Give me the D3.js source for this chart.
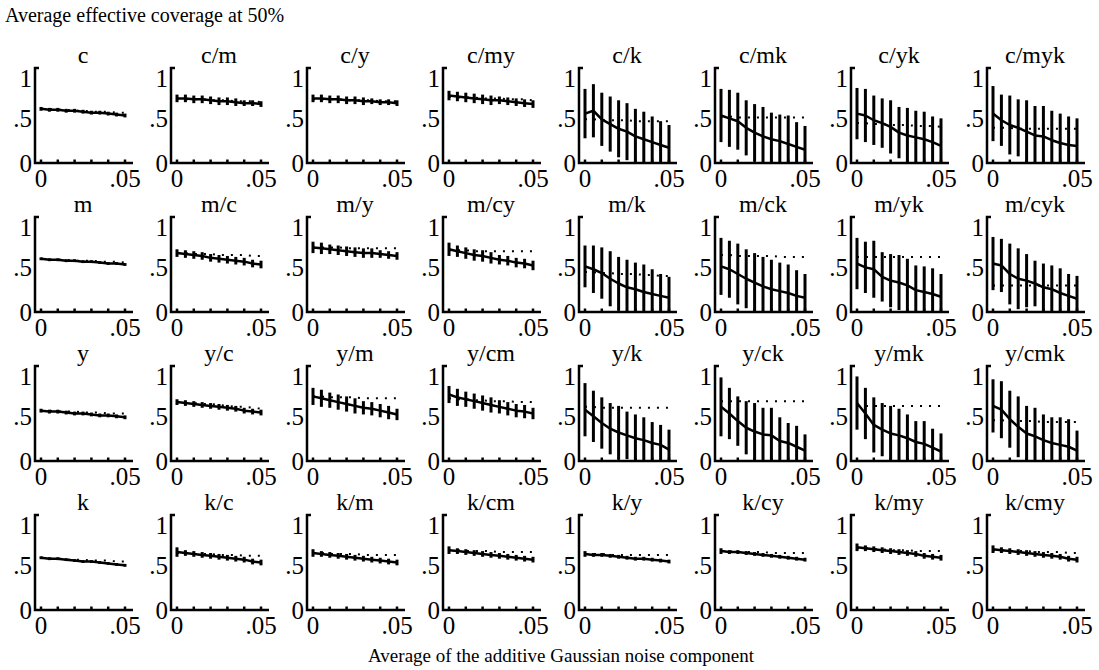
<!DOCTYPE html>
<html>
<head>
<meta charset="utf-8">
<script src="https://cdn.jsdelivr.net/npm/d3@7"></script>
<style>
  html, body { margin: 0; padding: 0; background: #fff; }
</style>
</head>
<body>
<svg id="chart" width="1099" height="670" font-family="'Liberation Serif', 'Times New Roman', Times, serif"></svg>
<script>
// Noise levels along the x axis of every panel
const noiseLevels = [0, 0.005, 0.01, 0.015, 0.02, 0.025, 0.03, 0.035, 0.04, 0.045, 0.05];
const xTickValues = [0, 0.01, 0.02, 0.03, 0.04, 0.05];
const xTickLabels = ["0", ".05"];
const yTickLabels = ["0", ".5", "1"];

// Ink combinations, one per panel, row by row
const panelNames = [
  "c", "c/m", "c/y", "c/my", "c/k", "c/mk", "c/yk", "c/myk",
  "m", "m/c", "m/y", "m/cy", "m/k", "m/ck", "m/yk", "m/cyk",
  "y", "y/c", "y/m", "y/cm", "y/k", "y/ck", "y/mk", "y/cmk",
  "k", "k/c", "k/m", "k/cm", "k/y", "k/cy", "k/my", "k/cmy"
];

// Mean effective coverage per noise level
const meanCoverage = [
  [0.57,0.56,0.56,0.55,0.55,0.54,0.53,0.53,0.52,0.51,0.50],
  [0.68,0.68,0.67,0.67,0.66,0.65,0.65,0.64,0.63,0.63,0.62],
  [0.68,0.68,0.67,0.67,0.66,0.66,0.65,0.65,0.64,0.64,0.63],
  [0.71,0.70,0.69,0.68,0.67,0.66,0.66,0.65,0.64,0.63,0.62],
  [0.52,0.55,0.46,0.41,0.36,0.33,0.28,0.25,0.22,0.19,0.16],
  [0.50,0.47,0.44,0.37,0.32,0.28,0.25,0.23,0.20,0.17,0.14],
  [0.52,0.50,0.45,0.42,0.38,0.32,0.29,0.27,0.25,0.22,0.18],
  [0.52,0.45,0.40,0.37,0.33,0.29,0.28,0.24,0.21,0.19,0.18],

  [0.56,0.55,0.55,0.54,0.54,0.53,0.53,0.52,0.51,0.51,0.50],
  [0.62,0.61,0.60,0.59,0.57,0.56,0.55,0.54,0.53,0.51,0.50],
  [0.68,0.67,0.66,0.65,0.64,0.63,0.62,0.62,0.61,0.60,0.59],
  [0.66,0.64,0.62,0.60,0.59,0.57,0.55,0.54,0.52,0.51,0.49],
  [0.48,0.45,0.41,0.35,0.30,0.26,0.24,0.21,0.19,0.17,0.15],
  [0.48,0.45,0.40,0.35,0.31,0.27,0.24,0.22,0.20,0.17,0.15],
  [0.51,0.47,0.45,0.37,0.33,0.31,0.28,0.23,0.21,0.19,0.16],
  [0.51,0.49,0.40,0.35,0.33,0.30,0.26,0.24,0.20,0.17,0.14],

  [0.53,0.52,0.52,0.51,0.50,0.50,0.49,0.48,0.48,0.47,0.46],
  [0.62,0.61,0.60,0.59,0.58,0.57,0.56,0.55,0.53,0.52,0.51],
  [0.68,0.66,0.64,0.62,0.60,0.58,0.56,0.55,0.53,0.51,0.49],
  [0.70,0.67,0.65,0.63,0.61,0.59,0.57,0.55,0.53,0.52,0.50],
  [0.54,0.47,0.40,0.34,0.30,0.27,0.24,0.22,0.19,0.17,0.12],
  [0.57,0.50,0.42,0.35,0.31,0.28,0.27,0.21,0.19,0.15,0.11],
  [0.61,0.50,0.38,0.33,0.29,0.27,0.24,0.20,0.18,0.14,0.10],
  [0.58,0.54,0.44,0.36,0.29,0.26,0.22,0.19,0.17,0.15,0.11],

  [0.55,0.54,0.54,0.53,0.52,0.51,0.51,0.50,0.49,0.48,0.47],
  [0.61,0.60,0.59,0.58,0.57,0.56,0.55,0.54,0.53,0.51,0.50],
  [0.60,0.59,0.58,0.57,0.56,0.55,0.54,0.53,0.52,0.51,0.50],
  [0.63,0.62,0.61,0.60,0.59,0.58,0.57,0.56,0.55,0.54,0.53],
  [0.59,0.58,0.58,0.57,0.56,0.55,0.54,0.54,0.53,0.52,0.51],
  [0.62,0.61,0.61,0.60,0.59,0.58,0.57,0.56,0.55,0.54,0.53],
  [0.66,0.65,0.64,0.63,0.62,0.61,0.60,0.59,0.57,0.56,0.55],
  [0.64,0.63,0.62,0.61,0.60,0.59,0.58,0.57,0.56,0.54,0.53]
];

// Half-length of the error bar at each noise level
const coverageSpread = [
  [0.02,0.02,0.02,0.02,0.02,0.02,0.02,0.02,0.02,0.02,0.02],
  [0.04,0.04,0.04,0.04,0.04,0.04,0.04,0.04,0.03,0.03,0.03],
  [0.04,0.04,0.04,0.04,0.04,0.04,0.04,0.03,0.03,0.03,0.03],
  [0.05,0.05,0.05,0.05,0.05,0.05,0.04,0.04,0.04,0.04,0.04],
  [0.26,0.28,0.28,0.29,0.30,0.30,0.29,0.29,0.27,0.25,0.24],
  [0.28,0.30,0.30,0.29,0.30,0.31,0.28,0.28,0.30,0.26,0.25],
  [0.27,0.28,0.26,0.26,0.28,0.27,0.29,0.28,0.29,0.27,0.29],
  [0.29,0.27,0.31,0.30,0.33,0.31,0.32,0.31,0.31,0.30,0.29],

  [0.015,0.015,0.015,0.015,0.015,0.015,0.015,0.015,0.015,0.015,0.015],
  [0.04,0.04,0.04,0.04,0.04,0.04,0.04,0.04,0.04,0.04,0.04],
  [0.06,0.06,0.05,0.05,0.05,0.05,0.05,0.05,0.04,0.04,0.04],
  [0.07,0.06,0.06,0.06,0.06,0.06,0.05,0.05,0.05,0.05,0.05],
  [0.22,0.25,0.27,0.29,0.28,0.29,0.28,0.29,0.26,0.23,0.22],
  [0.30,0.30,0.32,0.31,0.31,0.31,0.31,0.30,0.30,0.27,0.25],
  [0.27,0.27,0.30,0.26,0.28,0.29,0.28,0.26,0.27,0.27,0.24],
  [0.28,0.28,0.32,0.32,0.28,0.24,0.25,0.25,0.26,0.23,0.24],

  [0.02,0.02,0.02,0.02,0.02,0.02,0.02,0.02,0.02,0.02,0.02],
  [0.03,0.03,0.03,0.03,0.03,0.03,0.03,0.03,0.03,0.03,0.03],
  [0.09,0.09,0.08,0.08,0.08,0.08,0.07,0.07,0.07,0.07,0.06],
  [0.09,0.09,0.08,0.08,0.08,0.08,0.07,0.07,0.07,0.07,0.06],
  [0.28,0.27,0.27,0.27,0.28,0.25,0.25,0.24,0.22,0.21,0.21],
  [0.31,0.27,0.26,0.28,0.30,0.28,0.29,0.25,0.21,0.22,0.17],
  [0.28,0.27,0.29,0.28,0.29,0.28,0.25,0.22,0.24,0.20,0.19],
  [0.28,0.30,0.30,0.32,0.29,0.30,0.27,0.27,0.29,0.29,0.21],

  [0.015,0.015,0.015,0.015,0.015,0.015,0.015,0.015,0.015,0.015,0.015],
  [0.05,0.03,0.03,0.03,0.03,0.03,0.03,0.03,0.03,0.03,0.03],
  [0.04,0.03,0.03,0.03,0.03,0.03,0.03,0.03,0.03,0.03,0.03],
  [0.04,0.03,0.03,0.03,0.03,0.03,0.03,0.03,0.03,0.03,0.03],
  [0.03,0.02,0.02,0.02,0.02,0.02,0.02,0.02,0.02,0.02,0.02],
  [0.03,0.02,0.02,0.02,0.02,0.02,0.02,0.02,0.02,0.02,0.02],
  [0.04,0.03,0.03,0.03,0.03,0.03,0.03,0.03,0.03,0.03,0.03],
  [0.04,0.03,0.03,0.03,0.03,0.03,0.03,0.03,0.03,0.03,0.03]
];

// Dotted comparison curve per noise level
const referenceCoverage = [
  [0.57,0.57,0.56,0.56,0.55,0.55,0.54,0.54,0.54,0.53,0.53],
  [0.68,0.67,0.67,0.67,0.66,0.66,0.66,0.65,0.65,0.65,0.64],
  [0.67,0.67,0.67,0.67,0.66,0.66,0.66,0.66,0.65,0.65,0.65],
  [0.70,0.69,0.69,0.69,0.68,0.68,0.68,0.67,0.67,0.67,0.66],
  [0.46,0.46,0.45,0.45,0.45,0.45,0.44,0.44,0.44,0.44,0.44],
  [0.49,0.49,0.48,0.48,0.48,0.48,0.48,0.48,0.48,0.48,0.48],
  [0.42,0.42,0.41,0.41,0.40,0.40,0.40,0.39,0.39,0.39,0.38],
  [0.37,0.37,0.37,0.36,0.36,0.36,0.36,0.36,0.36,0.36,0.36],

  [0.56,0.55,0.55,0.55,0.54,0.54,0.54,0.53,0.53,0.53,0.52],
  [0.62,0.62,0.61,0.61,0.61,0.60,0.60,0.60,0.60,0.59,0.59],
  [0.68,0.68,0.68,0.68,0.67,0.67,0.67,0.67,0.67,0.67,0.67],
  [0.65,0.65,0.65,0.64,0.64,0.64,0.64,0.64,0.64,0.64,0.64],
  [0.42,0.42,0.41,0.41,0.40,0.40,0.40,0.39,0.39,0.38,0.38],
  [0.60,0.60,0.59,0.59,0.59,0.59,0.59,0.58,0.58,0.58,0.58],
  [0.58,0.58,0.58,0.58,0.58,0.58,0.58,0.58,0.58,0.58,0.58],
  [0.28,0.28,0.28,0.28,0.28,0.28,0.28,0.28,0.28,0.28,0.28],

  [0.53,0.53,0.52,0.52,0.52,0.51,0.51,0.51,0.50,0.50,0.50],
  [0.62,0.61,0.61,0.60,0.60,0.59,0.58,0.57,0.57,0.56,0.55],
  [0.68,0.68,0.67,0.67,0.67,0.67,0.66,0.66,0.66,0.66,0.66],
  [0.66,0.65,0.65,0.64,0.64,0.63,0.63,0.63,0.62,0.62,0.62],
  [0.57,0.57,0.56,0.56,0.56,0.56,0.56,0.56,0.56,0.56,0.56],
  [0.63,0.63,0.63,0.63,0.63,0.63,0.63,0.63,0.63,0.63,0.63],
  [0.58,0.58,0.58,0.58,0.58,0.58,0.58,0.58,0.58,0.58,0.58],
  [0.43,0.43,0.42,0.42,0.42,0.42,0.41,0.41,0.41,0.41,0.41],

  [0.55,0.54,0.54,0.53,0.53,0.53,0.52,0.52,0.52,0.51,0.51],
  [0.60,0.60,0.59,0.59,0.59,0.58,0.58,0.58,0.57,0.57,0.57],
  [0.60,0.60,0.59,0.59,0.59,0.59,0.58,0.58,0.58,0.58,0.58],
  [0.63,0.63,0.62,0.62,0.62,0.62,0.61,0.61,0.61,0.61,0.61],
  [0.59,0.59,0.59,0.58,0.58,0.58,0.58,0.58,0.58,0.58,0.58],
  [0.62,0.62,0.61,0.61,0.61,0.61,0.60,0.60,0.60,0.60,0.60],
  [0.65,0.65,0.64,0.64,0.63,0.63,0.63,0.62,0.62,0.62,0.62],
  [0.63,0.63,0.62,0.62,0.62,0.61,0.61,0.61,0.61,0.60,0.60]
];

const svg = d3.select("#chart");
const nCols = 8;
const colStep = 136, rowStep = 149;
const left0 = 35, top0 = 68;
const plotH = 95;       // height of the 0..1 axis
const axisLen = 98;     // length of the x axis line
const xPad0 = 6, xPad1 = 90;

svg.append("text")
  .attr("x", 5).attr("y", 22)
  .attr("font-size", 20)
  .text("Average effective coverage at 50%");

svg.append("text")
  .attr("x", 561).attr("y", 662)
  .attr("text-anchor", "middle")
  .attr("font-size", 19)
  .text("Average of the additive Gaussian noise component");

panelNames.forEach((name, i) => {
  const col = i % nCols, row = Math.floor(i / nCols);
  const ox = left0 + col * colStep;
  const oy = top0 + row * rowStep;

  const x = d3.scaleLinear().domain([0, 0.05]).range([ox + xPad0, ox + xPad1]);
  const y = d3.scaleLinear().domain([0, 1]).range([oy + plotH, oy]);
  const clampY = v => y(Math.max(0, Math.min(1, v)));

  const g = svg.append("g");

  // panel title
  g.append("text")
    .attr("x", ox + 48).attr("y", oy - 5)
    .attr("text-anchor", "middle")
    .attr("font-size", 24)
    .text(name);

  const mean = meanCoverage[i], spread = coverageSpread[i], ref = referenceCoverage[i];

  // dotted comparison curve
  g.append("path")
    .datum(noiseLevels.map((n, k) => [n, ref[k]]))
    .attr("fill", "none")
    .attr("stroke", "#000")
    .attr("stroke-width", 2)
    .attr("stroke-dasharray", "2,7")
    .attr("d", d3.line().x(d => x(d[0])).y(d => y(d[1])));

  // error bars
  g.selectAll("line.err")
    .data(noiseLevels)
    .join("line")
    .attr("class", "err")
    .attr("x1", d => x(d)).attr("x2", d => x(d))
    .attr("y1", (d, k) => clampY(mean[k] - spread[k]))
    .attr("y2", (d, k) => clampY(mean[k] + spread[k]))
    .attr("stroke", "#000")
    .attr("stroke-width", 3);

  // mean curve
  g.append("path")
    .datum(noiseLevels.map((n, k) => [n, mean[k]]))
    .attr("fill", "none")
    .attr("stroke", "#000")
    .attr("stroke-width", 2.5)
    .attr("stroke-linejoin", "round")
    .attr("d", d3.line().x(d => x(d[0])).y(d => y(d[1])));

  // axes
  g.append("path")
    .attr("fill", "none")
    .attr("stroke", "#000")
    .attr("stroke-width", 2.5)
    .attr("d", `M${ox + 4},${y(1)}H${ox}V${y(0)}H${ox + axisLen}`);

  g.selectAll("line.xt")
    .data(xTickValues)
    .join("line")
    .attr("class", "xt")
    .attr("x1", d => x(d)).attr("x2", d => x(d))
    .attr("y1", y(0)).attr("y2", y(0) - 3.5)
    .attr("stroke", "#000")
    .attr("stroke-width", 2.5);

  // y tick labels
  const yLabelPos = [[0, 9], [0.5, 11], [1, 19]];
  yLabelPos.forEach(([v, dy], k) => {
    g.append("text")
      .attr("x", ox - 3).attr("y", y(v) + dy)
      .attr("text-anchor", "end")
      .attr("font-size", 25)
      .text(yTickLabels[k]);
  });

  // x tick labels
  [0, 0.05].forEach((v, k) => {
    g.append("text")
      .attr("x", x(v)).attr("y", y(0) + 24)
      .attr("text-anchor", "middle")
      .attr("font-size", 25)
      .text(xTickLabels[k]);
  });
});
</script>
</body>
</html>
